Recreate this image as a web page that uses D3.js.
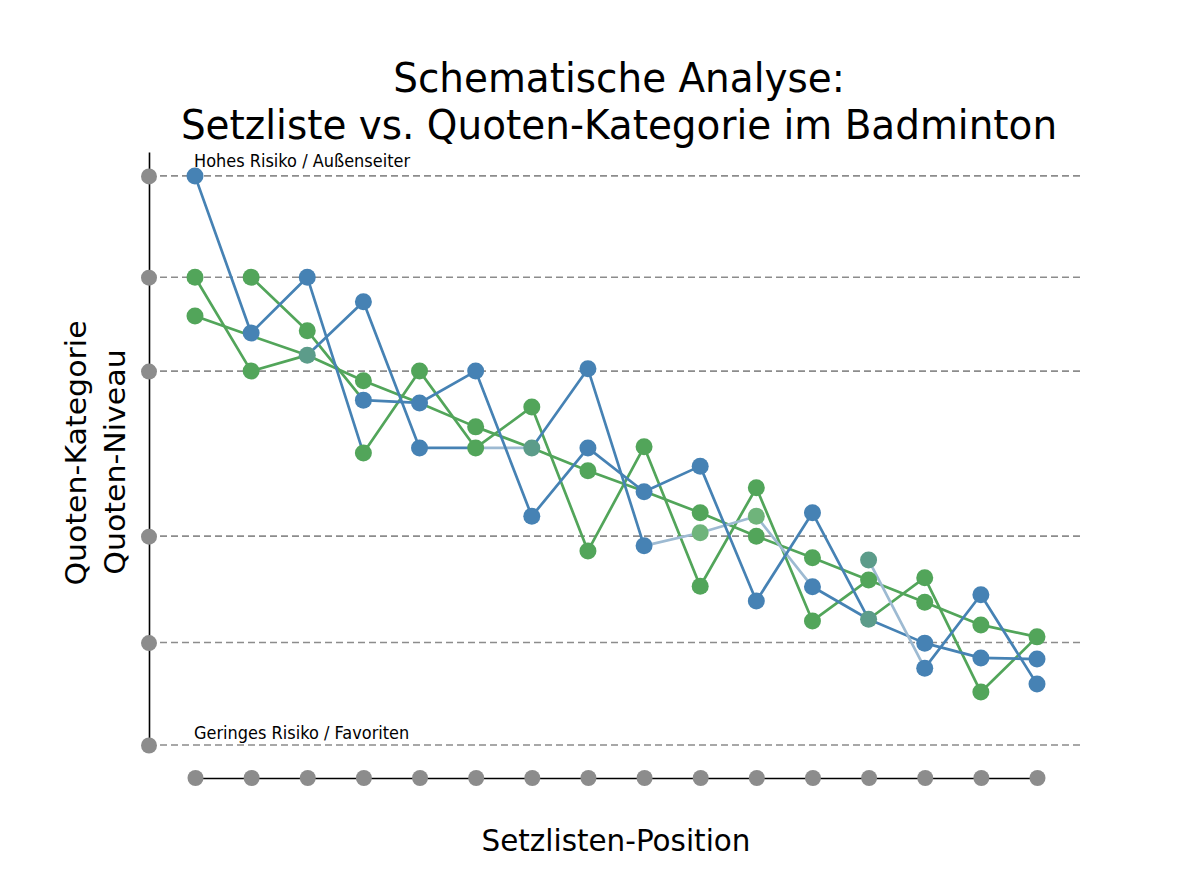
<!DOCTYPE html>
<html>
<head>
<meta charset="utf-8">
<script src="https://cdn.jsdelivr.net/npm/d3@7"></script>
<style>
  body { margin: 0; background: #fff; }
  text { font-family: "DejaVu Sans", sans-serif; }
</style>
</head>
<body>
<div id="chart"></div>
<script>
// Setzlisten-Positionen 1..16 and the y tick levels (no labels shown)
const seeds = d3.range(1, 17);
const yTicks = [0, 1.8, 3.67, 6.57, 8.22, 10];

// line paths: first seed + values
const blueLineA = { start: 1, values: [10.0, 7.24, 8.22, 5.13] };
const blueLineB = { start: 3, values: [6.85, 7.79, 5.22, 5.22, 5.22, 6.61, 3.50, 3.73, 4.02, 2.78, 2.21, 1.79, 1.53, 1.51] };
const blueLineC = { start: 4, values: [6.06, 6.01, 6.57, 4.02, 5.22, 4.45, 4.90, 2.53, 4.08, 2.21] };
const blueLineD = { start: 13, values: [3.25, 1.35, 2.64, 1.07] };
const greenTrend = { start: 1, values: [7.54, 7.19, 6.85, 6.40, 6.01, 5.59, 5.22, 4.82, 4.46, 4.08, 3.67, 3.29, 2.90, 2.51, 2.11, 1.90] };
const greenLineE = { start: 1, values: [8.22, 6.57, 6.85] };
const greenLineF = { start: 2, values: [8.22, 7.28, 6.06] };
const greenLineG = { start: 4, values: [5.13, 6.57, 5.22, 5.94, 3.41, 5.24, 2.79, 4.52, 2.18, 2.90] };
const greenLineH = { start: 13, values: [2.21, 2.94, 0.93, 1.90] };

// segments (by starting seed) drawn faint
const faintB = [6, 9, 10, 11];
const faintD = [13];

// markers [seed, value]
const blueDots = [[1,10.0],[2,7.24],[3,8.22],[4,7.79],[4,6.06],[5,6.01],[5,5.22],[6,6.57],[7,4.02],[8,6.61],[8,5.22],
  [9,4.45],[9,3.50],[10,4.90],[11,2.53],[12,4.08],[12,2.78],[14,1.79],[14,1.35],[15,2.64],[15,1.53],[16,1.51],[16,1.07]];
const greenDots = [[1,8.22],[1,7.54],[2,8.22],[2,6.57],[3,7.28],[4,6.40],[4,5.13],[5,6.57],[6,5.59],[6,5.22],[7,5.94],
  [8,4.82],[8,3.41],[9,5.24],[10,4.08],[10,2.79],[11,4.52],[11,3.67],[12,3.29],[12,2.18],[13,2.90],[14,2.94],[14,2.51],
  [15,2.11],[15,0.93],[16,1.90]];
const mixedDots = [[3,6.85],[7,5.22],[13,3.25],[13,2.21]];
const faintDots = [[10,3.73],[11,4.02]];

const width = 1200, height = 896;
const blue = "#4682b4", green = "#52a55a", faintBlue = "#9dbad2", mixed = "#5c9c8a", faintGreen = "#6fb47b";
const squeeze = "scale(0.95,1)"; // text in the reference is slightly narrow

const svg = d3.select("#chart").append("svg")
  .attr("width", width)
  .attr("height", height);

const x = d3.scaleLinear().domain([1, 16]).range([195, 1037]);
const y = d3.scaleLinear().domain([0, 10.42]).range([745, 152]);

// Title
svg.append("text")
  .attr("transform", "translate(619,92) " + squeeze)
  .attr("text-anchor", "middle")
  .attr("font-size", 41)
  .text("Schematische Analyse:");
svg.append("text")
  .attr("transform", "translate(619,139) " + squeeze)
  .attr("text-anchor", "middle")
  .attr("font-size", 41)
  .text("Setzliste vs. Quoten-Kategorie im Badminton");

// Gridlines
svg.append("g").selectAll("line")
  .data(yTicks)
  .enter().append("line")
  .attr("x1", 149).attr("x2", 1082)
  .attr("y1", d => y(d)).attr("y2", d => y(d))
  .attr("stroke", "#8c8c8c")
  .attr("stroke-width", 1.6)
  .attr("stroke-dasharray", "7,4");

// Y axis
const yAxis = svg.append("g")
  .attr("transform", "translate(149,0)")
  .call(d3.axisLeft(y).tickValues(yTicks).tickSize(0).tickSizeOuter(0).tickFormat(""));
yAxis.select(".domain").attr("stroke", "#000").attr("stroke-width", 1.6);
yAxis.selectAll(".tick").append("circle").attr("r", 8).attr("fill", "#8c8c8c");

// X axis
const xAxis = svg.append("g")
  .attr("transform", "translate(0,778)")
  .call(d3.axisBottom(x).tickValues(seeds).tickSize(0).tickSizeOuter(0).tickFormat(""));
xAxis.select(".domain").attr("stroke", "#000").attr("stroke-width", 1.6);
xAxis.selectAll(".tick").append("circle").attr("r", 8).attr("fill", "#8c8c8c");

// Axis labels
svg.append("text")
  .attr("transform", "translate(616,851) " + squeeze)
  .attr("text-anchor", "middle")
  .attr("font-size", 31)
  .text("Setzlisten-Position");

svg.append("text")
  .attr("transform", "translate(86,453) " + squeeze + " rotate(-90)")
  .attr("text-anchor", "middle")
  .attr("font-size", 30)
  .text("Quoten-Kategorie");

svg.append("text")
  .attr("transform", "translate(125,462) " + squeeze + " rotate(-90)")
  .attr("text-anchor", "middle")
  .attr("font-size", 30)
  .text("Quoten-Niveau");

// Annotations
svg.append("text")
  .attr("transform", "translate(194,167) " + squeeze)
  .attr("font-size", 17)
  .text("Hohes Risiko / Außenseiter");

svg.append("text")
  .attr("transform", "translate(194,739) " + squeeze)
  .attr("font-size", 17)
  .text("Geringes Risiko / Favoriten");

// Lines, drawn segment by segment
const toPoints = s => s.values.map((v, i) => [s.start + i, v]);

function drawPath(series, color, faint) {
  const segs = d3.pairs(toPoints(series));
  svg.append("g").selectAll("line")
    .data(segs)
    .enter().append("line")
    .attr("x1", d => x(d[0][0])).attr("y1", d => y(d[0][1]))
    .attr("x2", d => x(d[1][0])).attr("y2", d => y(d[1][1]))
    .attr("stroke", d => (faint || []).includes(d[0][0]) ? faintBlue : color)
    .attr("stroke-width", 2.7)
    .attr("stroke-linecap", "round");
}

drawPath(greenTrend, green);
drawPath(greenLineE, green);
drawPath(greenLineF, green);
drawPath(greenLineG, green);
drawPath(greenLineH, green);
drawPath(blueLineA, blue);
drawPath(blueLineB, blue, faintB);
drawPath(blueLineC, blue);
drawPath(blueLineD, blue, faintD);

// Markers
function drawDots(data, color) {
  svg.append("g").selectAll("circle")
    .data(data)
    .enter().append("circle")
    .attr("cx", d => x(d[0]))
    .attr("cy", d => y(d[1]))
    .attr("r", 8.5)
    .attr("fill", color);
}

drawDots(blueDots, blue);
drawDots(greenDots, green);
drawDots(mixedDots, mixed);
drawDots(faintDots, faintGreen);
</script>
</body>
</html>
